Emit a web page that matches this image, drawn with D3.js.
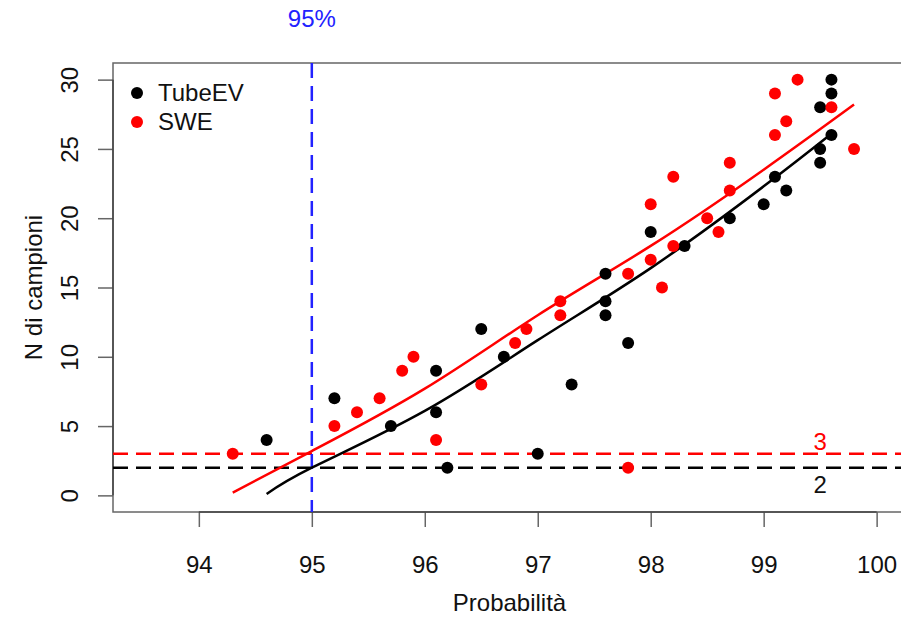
<!DOCTYPE html>
<html>
<head>
<meta charset="utf-8">
<script src="https://cdn.jsdelivr.net/npm/d3@7"></script>
<style>
    body { margin: 0; background: #fff; }
    svg { display: block; font-family: "Liberation Sans", Arial, sans-serif; }
</style>
</head>
<body>
<div id="chart"></div>
<script>
// TubeEV points
const tubeX = [94.6, 95.2, 95.7, 96.1, 96.1, 96.2, 96.5, 96.7, 97.0, 97.3, 97.6, 97.6, 97.6,
    97.8, 98.0, 98.3, 98.7, 99.0, 99.1, 99.2, 99.5, 99.5, 99.5, 99.6, 99.6, 99.6];
const tubeY = [4, 7, 5, 9, 6, 2, 12, 10, 3, 8, 16, 14, 13,
    11, 19, 18, 20, 21, 23, 22, 28, 25, 24, 30, 29, 26];

// SWE points
const sweX = [94.3, 95.2, 95.4, 95.6, 95.8, 95.9, 96.1, 96.5, 96.8, 96.9, 97.2, 97.2, 97.8, 97.8,
    98.0, 98.0, 98.1, 98.2, 98.2, 98.5, 98.6, 98.7, 98.7, 99.1, 99.1, 99.2, 99.3, 99.6, 99.8];
const sweY = [3, 5, 6, 7, 9, 10, 4, 8, 11, 12, 14, 13, 16, 2,
    21, 17, 15, 23, 18, 20, 19, 24, 22, 29, 26, 27, 30, 28, 25];

// fitted curves
const tubeFitX = [94.6, 95, 96, 97, 98, 99, 99.6];
const tubeFitY = [0.1, 2.0, 6.1, 11.2, 16.4, 22.3, 26.1];
const sweFitX = [94.3, 95, 96, 97, 98, 99, 99.8];
const sweFitY = [0.2, 3.2, 7.7, 13.0, 18.0, 23.5, 28.2];

// reference lines
const thresholdX = 95;
const thresholdLabel = "95%";
const tubeMin = 2;
const sweMin = 3;

const xTicks = [94, 95, 96, 97, 98, 99, 100];
const yTicks = [0, 5, 10, 15, 20, 25, 30];
const seriesNames = ["TubeEV", "SWE"];
const seriesColors = ["black", "red"];

document.addEventListener("DOMContentLoaded", () => {
    const width = 901, height = 617;
    const box = { left: 113, top: 63, right: 906, bottom: 512 };
    const fontSize = 24;

    const svg = d3.select("#chart").append("svg")
        .attr("width", width)
        .attr("height", height);

    // R-style 4% padding around xlim c(93.5,100) and ylim c(0,30)
    const x = d3.scaleLinear().domain([93.24, 100.26]).range([box.left, box.right]);
    const y = d3.scaleLinear().domain([-1.2, 31.2]).range([box.bottom, box.top]);

    // plot box
    svg.append("rect")
        .attr("x", box.left).attr("y", box.top)
        .attr("width", box.right - box.left).attr("height", box.bottom - box.top)
        .attr("fill", "none").attr("stroke", "#666").attr("stroke-width", 1.5);

    // x axis
    const xAxis = svg.append("g")
        .attr("transform", `translate(0,${box.bottom})`)
        .call(d3.axisBottom(x).tickValues(xTicks).tickFormat(d3.format("d"))
            .tickSize(15).tickSizeOuter(0).tickPadding(29));
    xAxis.select(".domain").remove();
    xAxis.append("line")
        .attr("x1", x(xTicks[0])).attr("x2", x(xTicks[xTicks.length - 1]))
        .attr("stroke", "#444").attr("stroke-width", 1.5);
    xAxis.selectAll(".tick line").attr("stroke", "#666").attr("stroke-width", 1.5);
    xAxis.selectAll(".tick text")
        .attr("font-size", fontSize).attr("font-family", "Liberation Sans, Arial, sans-serif")
        .attr("fill", "#111");

    // y axis, labels turned like R
    const yAxis = svg.append("g")
        .attr("transform", `translate(${box.left},0)`)
        .call(d3.axisLeft(y).tickValues(yTicks).tickFormat(d3.format("d"))
            .tickSize(15).tickSizeOuter(0));
    yAxis.select(".domain").remove();
    yAxis.append("line")
        .attr("y1", y(yTicks[0])).attr("y2", y(yTicks[yTicks.length - 1]))
        .attr("stroke", "#444").attr("stroke-width", 1.5);
    yAxis.selectAll(".tick line").attr("stroke", "#666").attr("stroke-width", 1.5);
    yAxis.selectAll(".tick text")
        .attr("x", null).attr("dy", null)
        .attr("transform", "translate(-35,0) rotate(-90)")
        .attr("text-anchor", "middle")
        .attr("font-size", fontSize).attr("font-family", "Liberation Sans, Arial, sans-serif")
        .attr("fill", "#111");

    // axis titles, centred on the plot box like R
    svg.append("text")
        .attr("x", (box.left + box.right) / 2).attr("y", 611)
        .attr("text-anchor", "middle").attr("font-size", fontSize).attr("fill", "#111")
        .text("Probabilità");
    svg.append("text")
        .attr("transform", `translate(42,${(box.top + box.bottom) / 2}) rotate(-90)`)
        .attr("text-anchor", "middle").attr("font-size", fontSize).attr("fill", "#111")
        .text("N di campioni");

    // horizontal minimum lines
    const hLines = [[sweMin, "red"], [tubeMin, "black"]];
    hLines.forEach(([v, c]) => {
        svg.append("line")
            .attr("x1", box.left).attr("x2", box.right)
            .attr("y1", y(v)).attr("y2", y(v))
            .attr("stroke", c).attr("stroke-width", 2.5)
            .attr("stroke-dasharray", "15,8");
    });
    svg.append("text")
        .attr("x", x(99.5)).attr("y", y(sweMin) - 4)
        .attr("text-anchor", "middle").attr("font-size", fontSize).attr("fill", "red")
        .text(String(sweMin));
    svg.append("text")
        .attr("x", x(99.5)).attr("y", y(tubeMin) + 25)
        .attr("text-anchor", "middle").attr("font-size", fontSize).attr("fill", "#111")
        .text(String(tubeMin));

    // vertical 95% line
    svg.append("line")
        .attr("x1", x(thresholdX)).attr("x2", x(thresholdX))
        .attr("y1", box.top).attr("y2", box.bottom)
        .attr("stroke", "#2222ff").attr("stroke-width", 2.5)
        .attr("stroke-dasharray", "15,8");
    svg.append("text")
        .attr("x", x(thresholdX)).attr("y", 27)
        .attr("text-anchor", "middle").attr("font-size", fontSize).attr("fill", "#2222ff")
        .text(thresholdLabel);

    // fitted curves
    const line = d3.line()
        .x(d => x(d[0]))
        .y(d => y(d[1]))
        .curve(d3.curveNatural);
    const fits = [
        [d3.zip(tubeFitX, tubeFitY), "black"],
        [d3.zip(sweFitX, sweFitY), "red"]
    ];
    fits.forEach(([pts, c]) => {
        svg.append("path")
            .datum(pts)
            .attr("d", line)
            .attr("fill", "none")
            .attr("stroke", c)
            .attr("stroke-width", 2.5);
    });

    // points
    const series = [
        [d3.zip(tubeX, tubeY), "black"],
        [d3.zip(sweX, sweY), "red"]
    ];
    series.forEach(([pts, c]) => {
        svg.append("g")
            .selectAll("circle")
            .data(pts)
            .enter().append("circle")
            .attr("cx", d => x(d[0]))
            .attr("cy", d => y(d[1]))
            .attr("r", 6)
            .attr("fill", c);
    });

    // legend
    const legend = svg.append("g");
    seriesNames.forEach((name, i) => {
        const ly = 93 + i * 29;
        legend.append("circle")
            .attr("cx", 137).attr("cy", ly).attr("r", 6)
            .attr("fill", seriesColors[i]);
        legend.append("text")
            .attr("x", 158).attr("y", ly).attr("dy", "0.35em")
            .attr("font-size", fontSize).attr("fill", "#111")
            .text(name);
    });
});
</script>
</body>
</html>
